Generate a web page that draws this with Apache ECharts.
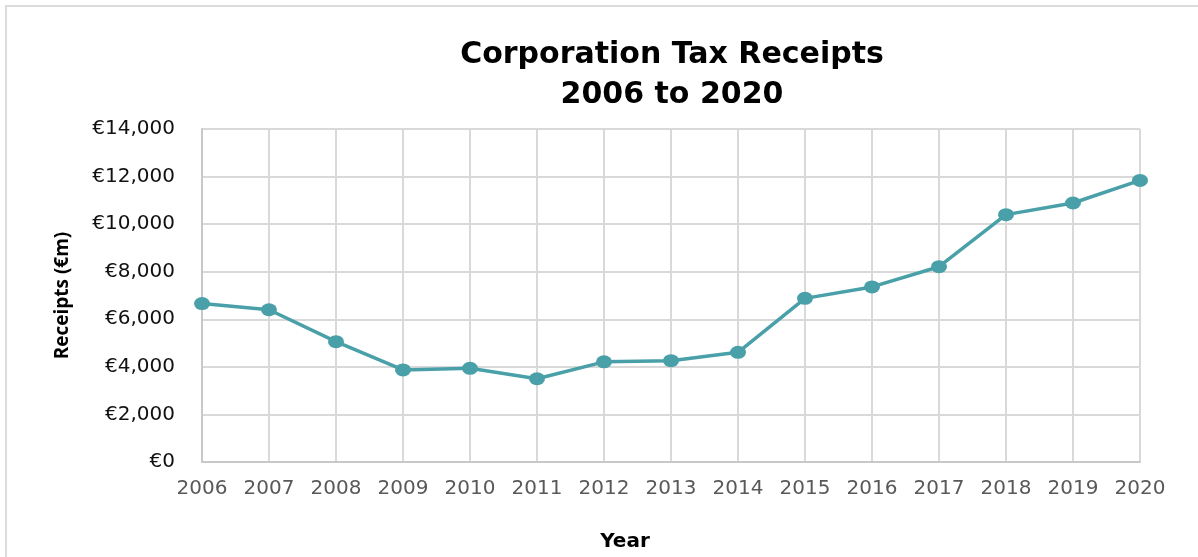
<!DOCTYPE html>
<html>
<head>
<meta charset="utf-8">
<script src="https://cdn.jsdelivr.net/npm/echarts@6/dist/echarts.min.js"></script>
<style>
html,body{margin:0;padding:0;background:#fff;}
#chart{width:1198px;height:557px;}
</style>
</head>
<body>
<div id="chart"></div>
<script>
const years = ['2006','2007','2008','2009','2010','2011','2012','2013','2014','2015','2016','2017','2018','2019','2020'];
const receipts = [6660, 6400, 5060, 3870, 3940, 3500, 4210, 4260, 4610, 6880, 7360, 8210, 10400, 10890, 11840];
const titleLines = ['Corporation Tax Receipts', '2006 to 2020'];
const yAxisName = 'Receipts (€m)';
const xAxisName = 'Year';

const chart = echarts.init(document.getElementById('chart'));
chart.setOption({
  backgroundColor: '#ffffff',
  animation: false,
  graphic: [{
    type: 'rect',
    shape: {x: 6, y: 6, width: 1300, height: 700},
    style: {fill: 'none', stroke: '#dcdcdc', lineWidth: 2},
    silent: true
  }],
  title: {
    text: titleLines.join('\n'),
    left: 667,
    textAlign: 'center',
    top: 30,
    textStyle: {
      fontFamily: 'DejaVu Sans',
      fontWeight: 'bold',
      fontSize: 30,
      lineHeight: 40,
      color: '#000000'
    }
  },
  grid: {left: 202, right: 58, top: 129, bottom: 93, containLabel: false},
  xAxis: {
    type: 'category',
    data: years,
    boundaryGap: false,
    name: xAxisName,
    nameLocation: 'middle',
    nameGap: 70,
    nameTextStyle: {fontFamily: 'DejaVu Sans', fontWeight: 'bold', fontSize: 20, color: '#000000', padding: [0, 92, 0, 0]},
    axisLine: {lineStyle: {color: '#c8c8c8', width: 2}},
    axisTick: {show: false},
    axisLabel: {fontFamily: 'DejaVu Sans', fontSize: 20, color: '#595959', margin: 17},
    splitLine: {show: true, lineStyle: {color: '#d9d9d9', width: 2}}
  },
  yAxis: {
    type: 'value',
    min: 0,
    max: 14000,
    interval: 2000,
    name: yAxisName,
    nameLocation: 'middle',
    nameGap: 130,
    nameRotate: 90,
    nameTextStyle: {fontFamily: 'Open Sans', fontWeight: 'bold', fontSize: 19, color: '#000000'},
    axisLine: {show: true, lineStyle: {color: '#c8c8c8', width: 2}},
    axisTick: {show: false},
    axisLabel: {
      fontFamily: 'DejaVu Sans',
      fontSize: 20,
      color: '#111111',
      margin: 27,
      formatter: v => '€' + v.toLocaleString('en-US')
    },
    splitLine: {show: true, lineStyle: {color: '#d9d9d9', width: 2}}
  },
  series: [{
    type: 'line',
    data: receipts,
    symbol: 'circle',
    symbolSize: [16, 13],
    lineStyle: {color: '#4aa0a8', width: 3.5},
    itemStyle: {color: '#4aa0a8'},
    z: 5
  }]
});
</script>
</body>
</html>
